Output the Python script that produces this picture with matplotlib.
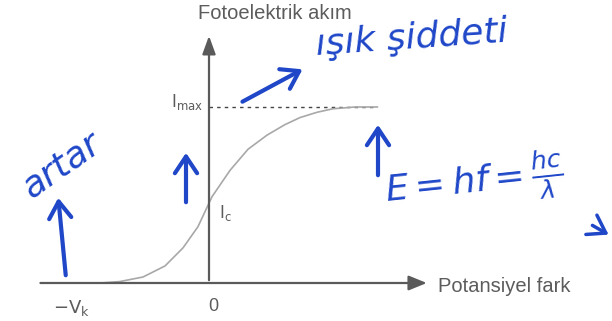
import matplotlib
matplotlib.use("Agg")
import matplotlib.pyplot as plt
from matplotlib.patches import FancyArrowPatch

# Photoelectric current vs. potential difference (normalised: I_max = 1, V_k = 1)
voltage = [-0.73, -0.60, -0.443, -0.295, -0.174, -0.074, 0.02, 0.141, 0.262,
           0.389, 0.51, 0.611, 0.725, 0.832, 0.98, 1.13]
current = [0.0, 0.008, 0.034, 0.097, 0.20, 0.32, 0.49, 0.64, 0.76,
           0.84, 0.90, 0.94, 0.97, 0.99, 1.0, 1.0]
i_max = 1.0
i_c = 0.45
x_ticks = [-1.0, 0.0]
x_tick_labels = [r"$-\mathrm{V}_{\mathrm{k}}$", "0"]

W, H = 612, 321
fig = plt.figure(figsize=(W / 100, H / 100), dpi=100)
fig.patch.set_facecolor("white")
ax = fig.add_axes([0, 0, 1, 1])
ax.set_axis_off()

# pixel-to-data scale: y axis at px 209, x axis at px 283
sx, sy = 149.0, 176.0
ax.set_xlim(-209 / sx, (W - 209) / sx)
ax.set_ylim((283 - H) / sy, 283 / sy)

def fig_px(x, y):
    return (x / W, 1 - y / H)

axis_col = "#5a5a5a"
text_col = "#5c5c5c"
font = "Liberation Sans"

# axes with arrowheads
ax.annotate("", xy=(1.48, 0), xytext=(-1.15, 0),
            arrowprops=dict(arrowstyle="-|>,head_length=1.1,head_width=0.45",
                            color=axis_col, lw=1.6))
ax.annotate("", xy=(0, 1.42), xytext=(0, 0),
            arrowprops=dict(arrowstyle="-|>,head_length=1.1,head_width=0.4",
                            color=axis_col, lw=1.6))

# saturation level
ax.plot([0, voltage[-1]], [i_max, i_max], color="#444444", lw=1.0,
        linestyle=(0, (2.5, 3)))

# current curve
ax.plot(voltage, current, color="#a8a8a8", lw=1.2, solid_joinstyle="round")

# labels
ax.text(0.44, 1.53, "Fotoelektrik akım", fontsize=14.5, color=text_col,
        family=font, ha="center", va="center")
ax.text(1.54, -0.02, "Potansiyel fark", fontsize=14.5, color=text_col,
        family=font, ha="left", va="center")
for xv, lab in zip(x_ticks, x_tick_labels):
    ax.text(xv + 0.03 if xv == 0 else xv + 0.08, -0.085, lab, fontsize=13,
            color=text_col, family=font, ha="center", va="top")
ax.text(-0.04, i_max + 0.03, r"$\mathrm{I}_{\mathrm{max}}$", fontsize=12,
        color=text_col, ha="right", va="center")
ax.text(0.07, i_c - 0.05, r"$\mathrm{I}_{\mathrm{c}}$", fontsize=12,
        color=text_col, ha="left", va="center")

# handwritten notes in blue
blue = "#1f47c8"
hand = dict(color=blue, family="DejaVu Sans", style="italic", transform=fig.transFigure)

def blue_arrow(p0, p1, lw=3.0):
    a = FancyArrowPatch(fig_px(*p0), fig_px(*p1), transform=fig.transFigure,
                        arrowstyle="->,head_length=6,head_width=4",
                        color=blue, lw=lw, mutation_scale=2)
    fig.patches.append(a)

fig.text(*fig_px(412, 38), "ışık şiddeti", fontsize=26, ha="center", va="center",
         rotation=4, **hand)
blue_arrow((240, 103), (305, 68))
fig.text(*fig_px(62, 165), "artar", fontsize=26, ha="center", va="center",
         rotation=35, **hand)
blue_arrow((66, 278), (58, 195))
blue_arrow((186, 205), (186, 150))
blue_arrow((378, 178), (378, 122))
fig.text(*fig_px(474, 182), r"$E = hf = \frac{hc}{\lambda}$", fontsize=26,
         ha="center", va="center", color=blue, rotation=6,
         transform=fig.transFigure)
blue_arrow((590, 224), (611, 236), lw=2.5)

fig.savefig("out.png", dpi=100, facecolor="white")
